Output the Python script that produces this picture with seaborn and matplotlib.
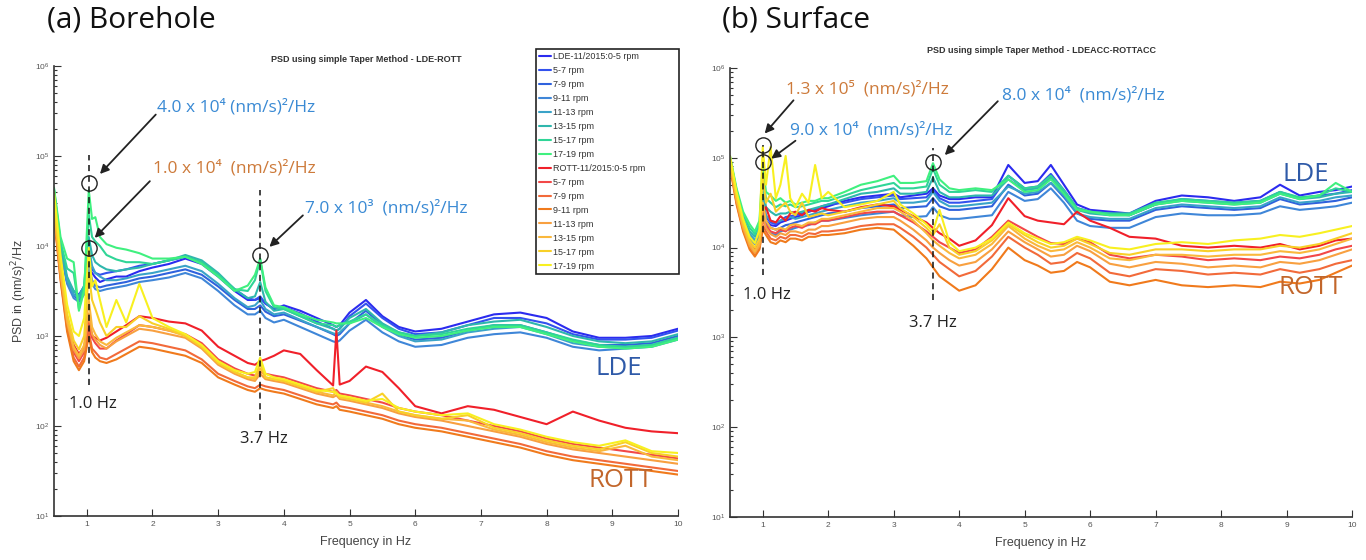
import numpy as np
import pandas as pd
import matplotlib
matplotlib.use('Agg')
import matplotlib.pyplot as plt
from matplotlib.ticker import LogLocator, NullFormatter
import seaborn as sns

RPM_BINS = ['0-5', '5-7', '7-9', '9-11', '11-13', '13-15', '15-17', '17-19']
LDE_LABELS = ['LDE-11/2015:0-5 rpm'] + [b + ' rpm' for b in RPM_BINS[1:]]
ROTT_LABELS = ['ROTT-11/2015:0-5 rpm'] + [b + ' rpm' for b in RPM_BINS[1:]]

LDE_COLORS = ['#2b2bef', '#3352ee', '#2f62dd', '#3f86d8',
              '#3aa3c8', '#2fb7ad', '#30d597', '#3ff07f']
ROTT_COLORS = ['#f0202a', '#f24848', '#f26a3a', '#f07a1c',
               '#f8a040', '#fab83c', '#f8d028', '#f8f020']

# (a) borehole -- log10 of PSD, one list per rpm bin
FREQ_A = [0.5, 0.6, 0.7, 0.8, 0.88, 0.96, 1.03, 1.08, 1.13, 1.2,
          1.3, 1.45, 1.6, 1.8, 2.0, 2.25, 2.5, 2.75, 3.0, 3.25,
          3.45, 3.56, 3.64, 3.72, 3.85, 4.0, 4.25, 4.5, 4.75, 4.8,
          4.85, 5.0, 5.25, 5.5, 5.75, 6.0, 6.4, 6.8, 7.2, 7.6,
          8.0, 8.4, 8.8, 9.2, 9.6, 10.0]

LDE_A = [
    [4.58, 3.98, 3.60, 3.46, 3.44, 3.55, 3.75, 3.70, 3.65, 3.60, 3.63, 3.66, 3.66, 3.72, 3.76, 3.80, 3.86, 3.80, 3.66, 3.50,
     3.40, 3.40, 3.42, 3.36, 3.30, 3.34, 3.28, 3.20, 3.12, 3.10, 3.12, 3.26, 3.40, 3.22, 3.10, 3.05, 3.08, 3.16, 3.24, 3.26,
     3.20, 3.05, 2.98, 2.98, 3.00, 3.08],
    [4.60, 4.00, 3.62, 3.50, 3.46, 3.55, 3.80, 3.74, 3.70, 3.68, 3.70, 3.72, 3.74, 3.78, 3.80, 3.84, 3.88, 3.82, 3.68, 3.52,
     3.42, 3.40, 3.44, 3.36, 3.30, 3.32, 3.25, 3.16, 3.08, 3.06, 3.08, 3.22, 3.36, 3.20, 3.08, 3.02, 3.04, 3.12, 3.20, 3.20,
     3.14, 3.02, 2.96, 2.96, 2.98, 3.06],
    [4.58, 3.98, 3.60, 3.45, 3.40, 3.48, 3.78, 3.62, 3.56, 3.54, 3.56, 3.58, 3.60, 3.64, 3.66, 3.70, 3.74, 3.68, 3.55, 3.40,
     3.30, 3.30, 3.34, 3.27, 3.22, 3.24, 3.17, 3.10, 3.02, 3.00, 3.02, 3.14, 3.28, 3.12, 3.02, 2.96, 2.98, 3.06, 3.12, 3.12,
     3.04, 2.95, 2.90, 2.90, 2.92, 3.00],
    [4.58, 3.96, 3.58, 3.42, 3.38, 3.46, 3.75, 3.58, 3.52, 3.50, 3.52, 3.54, 3.56, 3.60, 3.62, 3.65, 3.70, 3.64, 3.50, 3.34,
     3.24, 3.24, 3.28, 3.20, 3.15, 3.18, 3.10, 3.02, 2.94, 2.93, 2.95, 3.06, 3.18, 3.04, 2.94, 2.88, 2.90, 2.98, 3.02, 3.04,
     2.98, 2.88, 2.84, 2.86, 2.88, 2.96],
    [4.60, 4.00, 3.62, 3.46, 3.42, 3.52, 4.00, 3.78, 3.70, 3.66, 3.62, 3.62, 3.64, 3.68, 3.70, 3.74, 3.78, 3.72, 3.58, 3.42,
     3.32, 3.34, 3.40, 3.30, 3.24, 3.26, 3.18, 3.10, 3.03, 3.02, 3.04, 3.14, 3.24, 3.10, 3.00, 2.94, 2.96, 3.04, 3.08, 3.10,
     3.02, 2.92, 2.88, 2.88, 2.90, 2.98],
    [4.62, 4.02, 3.66, 3.50, 3.44, 3.56, 4.10, 3.90, 3.82, 3.78, 3.74, 3.72, 3.74, 3.76, 3.80, 3.84, 3.90, 3.84, 3.70, 3.52,
     3.42, 3.44, 3.60, 3.38, 3.28, 3.30, 3.22, 3.14, 3.08, 3.06, 3.08, 3.20, 3.30, 3.14, 3.04, 3.00, 3.04, 3.12, 3.16, 3.18,
     3.10, 3.00, 2.94, 2.92, 2.94, 3.02],
    [4.64, 4.05, 3.75, 3.70, 3.30, 3.55, 4.35, 4.10, 4.05, 4.00, 3.90, 3.85, 3.82, 3.82, 3.80, 3.84, 3.88, 3.82, 3.68, 3.52,
     3.50, 3.62, 3.85, 3.50, 3.32, 3.30, 3.22, 3.14, 3.12, 3.10, 3.12, 3.16, 3.24, 3.12, 3.04, 3.00, 3.02, 3.08, 3.12, 3.12,
     3.04, 2.96, 2.90, 2.88, 2.90, 2.98],
    [4.65, 4.10, 3.86, 3.82, 3.28, 3.50, 4.62, 4.30, 4.32, 4.10, 4.02, 3.98, 3.96, 3.92, 3.86, 3.86, 3.88, 3.80, 3.66, 3.50,
     3.56, 3.68, 3.86, 3.54, 3.34, 3.32, 3.24, 3.18, 3.15, 3.14, 3.14, 3.14, 3.20, 3.10, 3.02, 2.98, 3.00, 3.06, 3.10, 3.10,
     3.02, 2.94, 2.88, 2.86, 2.88, 2.96],
]

ROTT_A = [
    [4.40, 3.72, 3.20, 2.90, 2.80, 2.88, 3.20, 3.00, 2.98, 2.95, 2.98, 3.05, 3.12, 3.22, 3.20, 3.16, 3.14, 3.06, 2.88, 2.78,
     2.70, 2.68, 2.72, 2.74, 2.78, 2.84, 2.80, 2.62, 2.45, 3.06, 2.46, 2.50, 2.66, 2.60, 2.42, 2.22, 2.14, 2.22, 2.18, 2.10,
     2.02, 2.16, 2.06, 1.98, 1.94, 1.92],
    [4.38, 3.68, 3.12, 2.82, 2.72, 2.82, 3.10, 2.98, 2.92, 2.86, 2.86, 2.95, 3.02, 3.12, 3.10, 3.06, 3.02, 2.92, 2.74, 2.64,
     2.58, 2.56, 2.60, 2.58, 2.56, 2.54, 2.48, 2.42, 2.38, 2.40, 2.36, 2.34, 2.30, 2.26, 2.20, 2.16, 2.12, 2.06, 2.00, 1.94,
     1.86, 1.80, 1.76, 1.72, 1.68, 1.64],
    [4.36, 3.64, 3.08, 2.76, 2.66, 2.76, 3.05, 2.86, 2.82, 2.76, 2.74, 2.80, 2.86, 2.94, 2.92, 2.88, 2.84, 2.74, 2.58, 2.50,
     2.44, 2.42, 2.46, 2.44, 2.42, 2.40, 2.34, 2.28, 2.24, 2.26, 2.22, 2.20, 2.16, 2.12, 2.06, 2.02, 1.98, 1.92, 1.86, 1.80,
     1.72, 1.66, 1.62, 1.58, 1.54, 1.50],
    [4.34, 3.62, 3.05, 2.72, 2.62, 2.72, 3.00, 2.82, 2.76, 2.72, 2.70, 2.74, 2.80, 2.88, 2.86, 2.82, 2.78, 2.70, 2.54, 2.46,
     2.40, 2.38, 2.42, 2.40, 2.38, 2.36, 2.30, 2.24, 2.20, 2.22, 2.18, 2.16, 2.12, 2.08, 2.02, 1.98, 1.94, 1.88, 1.82, 1.76,
     1.68, 1.62, 1.58, 1.54, 1.50, 1.46],
    [4.40, 3.70, 3.15, 2.85, 2.75, 2.85, 3.25, 3.02, 2.96, 2.90, 2.86, 2.94, 3.00, 3.08, 3.06, 3.02, 2.98, 2.86, 2.68, 2.58,
     2.52, 2.50, 2.58, 2.52, 2.50, 2.48, 2.42, 2.36, 2.32, 2.34, 2.30, 2.28, 2.24, 2.20, 2.14, 2.10, 2.06, 2.00, 1.94, 1.88,
     1.80, 1.74, 1.70, 1.66, 1.62, 1.58],
    [4.42, 3.72, 3.18, 2.88, 2.78, 2.90, 3.40, 3.10, 3.02, 2.94, 2.90, 2.98, 3.04, 3.12, 3.10, 3.06, 3.00, 2.88, 2.70, 2.60,
     2.54, 2.52, 2.64, 2.54, 2.52, 2.50, 2.44, 2.38, 2.34, 2.38, 2.32, 2.30, 2.26, 2.22, 2.16, 2.12, 2.08, 2.06, 1.96, 1.90,
     1.82, 1.76, 1.72, 1.78, 1.66, 1.62],
    [4.50, 3.80, 3.25, 2.95, 2.85, 3.00, 3.70, 3.40, 3.30, 3.15, 3.00, 3.10, 3.10, 3.22, 3.14, 3.08, 3.00, 2.88, 2.70, 2.60,
     2.54, 2.54, 2.70, 2.54, 2.52, 2.50, 2.44, 2.38, 2.42, 2.36, 2.32, 2.30, 2.26, 2.36, 2.16, 2.12, 2.08, 2.12, 1.98, 1.92,
     1.84, 1.78, 1.74, 1.82, 1.70, 1.66],
    [4.60, 3.90, 3.35, 3.05, 3.00, 3.20, 3.98, 3.55, 3.62, 3.40, 3.10, 3.40, 3.15, 3.58, 3.20, 3.10, 3.02, 2.90, 2.72, 2.62,
     2.58, 2.60, 2.76, 2.58, 2.54, 2.52, 2.46, 2.40, 2.38, 2.36, 2.34, 2.32, 2.28, 2.30, 2.20, 2.16, 2.12, 2.14, 2.02, 1.96,
     1.88, 1.82, 1.78, 1.84, 1.72, 1.70],
]

# (b) surface -- log10 of PSD
FREQ_B = [0.5, 0.6, 0.7, 0.8, 0.88, 0.95, 1.0, 1.05, 1.12, 1.2,
          1.27, 1.35, 1.42, 1.5, 1.6, 1.7, 1.8, 1.9, 2.0, 2.25,
          2.5, 2.75, 3.0, 3.1, 3.3, 3.5, 3.6, 3.7, 3.85, 4.0,
          4.25, 4.5, 4.75, 5.0, 5.2, 5.4, 5.6, 5.8, 6.0, 6.3,
          6.6, 7.0, 7.4, 7.8, 8.2, 8.6, 8.9, 9.2, 9.5, 9.75,
          10.0]

LDE_B = [
    [5.00, 4.58, 4.28, 4.12, 4.05, 4.12, 4.45, 4.30, 4.25, 4.24, 4.28, 4.30, 4.32, 4.34, 4.36, 4.40, 4.42, 4.44, 4.46, 4.52,
     4.56, 4.58, 4.60, 4.56, 4.58, 4.60, 4.66, 4.58, 4.54, 4.54, 4.56, 4.56, 4.92, 4.72, 4.74, 4.92, 4.70, 4.48, 4.42, 4.40,
     4.38, 4.52, 4.58, 4.56, 4.52, 4.56, 4.70, 4.58, 4.62, 4.64, 4.68],
    [5.00, 4.60, 4.30, 4.14, 4.08, 4.15, 4.50, 4.34, 4.28, 4.26, 4.30, 4.34, 4.35, 4.36, 4.38, 4.40, 4.42, 4.46, 4.48, 4.50,
     4.54, 4.56, 4.58, 4.54, 4.55, 4.56, 4.64, 4.55, 4.50, 4.50, 4.52, 4.54, 4.80, 4.66, 4.68, 4.82, 4.64, 4.44, 4.40, 4.38,
     4.36, 4.48, 4.54, 4.52, 4.50, 4.52, 4.62, 4.55, 4.58, 4.60, 4.64],
    [4.98, 4.58, 4.28, 4.12, 4.06, 4.14, 4.48, 4.28, 4.22, 4.20, 4.22, 4.25, 4.26, 4.28, 4.30, 4.32, 4.34, 4.36, 4.38, 4.40,
     4.44, 4.46, 4.48, 4.44, 4.45, 4.46, 4.55, 4.46, 4.42, 4.42, 4.44, 4.46, 4.70, 4.58, 4.60, 4.72, 4.56, 4.38, 4.32, 4.30,
     4.30, 4.42, 4.46, 4.44, 4.42, 4.44, 4.54, 4.48, 4.50, 4.52, 4.56],
    [4.98, 4.56, 4.26, 4.10, 4.04, 4.12, 4.45, 4.22, 4.16, 4.14, 4.18, 4.20, 4.20, 4.22, 4.24, 4.25, 4.28, 4.30, 4.30, 4.33,
     4.36, 4.38, 4.40, 4.36, 4.34, 4.35, 4.45, 4.36, 4.32, 4.32, 4.34, 4.36, 4.62, 4.52, 4.54, 4.66, 4.50, 4.30, 4.24, 4.22,
     4.22, 4.34, 4.38, 4.36, 4.36, 4.38, 4.46, 4.42, 4.44, 4.46, 4.50],
    [5.00, 4.60, 4.30, 4.15, 4.08, 4.15, 4.60, 4.36, 4.30, 4.28, 4.30, 4.32, 4.34, 4.32, 4.34, 4.36, 4.38, 4.40, 4.42, 4.46,
     4.50, 4.52, 4.55, 4.50, 4.50, 4.52, 4.62, 4.52, 4.46, 4.46, 4.48, 4.50, 4.68, 4.60, 4.62, 4.72, 4.58, 4.38, 4.34, 4.32,
     4.32, 4.44, 4.48, 4.46, 4.44, 4.46, 4.56, 4.50, 4.52, 4.56, 4.58],
    [5.00, 4.62, 4.32, 4.18, 4.12, 4.20, 4.70, 4.45, 4.40, 4.36, 4.38, 4.38, 4.40, 4.38, 4.40, 4.42, 4.44, 4.46, 4.48, 4.54,
     4.60, 4.62, 4.66, 4.60, 4.60, 4.62, 4.78, 4.62, 4.56, 4.56, 4.58, 4.58, 4.76, 4.64, 4.66, 4.78, 4.62, 4.42, 4.38, 4.36,
     4.36, 4.48, 4.52, 4.50, 4.48, 4.50, 4.60, 4.54, 4.56, 4.60, 4.62],
    [5.00, 4.64, 4.36, 4.22, 4.15, 4.25, 4.80, 4.55, 4.50, 4.45, 4.48, 4.46, 4.48, 4.45, 4.46, 4.48, 4.50, 4.52, 4.52, 4.58,
     4.64, 4.68, 4.72, 4.66, 4.66, 4.68, 4.88, 4.70, 4.62, 4.62, 4.64, 4.62, 4.80, 4.66, 4.68, 4.80, 4.64, 4.44, 4.40, 4.38,
     4.38, 4.50, 4.54, 4.52, 4.50, 4.52, 4.62, 4.56, 4.58, 4.66, 4.62],
    [5.02, 4.66, 4.40, 4.26, 4.18, 4.30, 4.93, 4.62, 4.58, 4.52, 4.55, 4.50, 4.52, 4.48, 4.50, 4.52, 4.52, 4.55, 4.55, 4.62,
     4.70, 4.74, 4.80, 4.72, 4.72, 4.74, 4.94, 4.76, 4.66, 4.64, 4.66, 4.64, 4.76, 4.62, 4.64, 4.76, 4.60, 4.42, 4.40, 4.36,
     4.36, 4.48, 4.52, 4.50, 4.48, 4.50, 4.60, 4.54, 4.58, 4.72, 4.62],
]

ROTT_B = [
    [4.95, 4.55, 4.25, 4.05, 3.98, 4.05, 4.40, 4.45, 4.30, 4.28, 4.35, 4.30, 4.38, 4.40, 4.36, 4.42, 4.40, 4.44, 4.42, 4.40,
     4.45, 4.48, 4.46, 4.42, 4.35, 4.28, 4.22, 4.16, 4.10, 4.02, 4.08, 4.25, 4.55, 4.35, 4.30, 4.28, 4.26, 4.40, 4.30, 4.22,
     4.12, 4.10, 4.02, 4.00, 4.02, 4.00, 4.04, 3.98, 4.02, 4.08, 4.10],
    [4.93, 4.52, 4.22, 4.02, 3.95, 4.02, 4.30, 4.25, 4.18, 4.16, 4.20, 4.18, 4.22, 4.24, 4.22, 4.26, 4.26, 4.30, 4.30, 4.34,
     4.38, 4.40, 4.40, 4.36, 4.28, 4.18, 4.12, 4.06, 4.00, 3.94, 3.98, 4.12, 4.30, 4.20, 4.12, 4.05, 4.04, 4.10, 4.06, 3.92,
     3.88, 3.92, 3.90, 3.86, 3.88, 3.86, 3.90, 3.88, 3.92, 3.98, 4.02],
    [4.92, 4.50, 4.20, 4.00, 3.92, 4.00, 4.25, 4.18, 4.10, 4.08, 4.12, 4.10, 4.14, 4.14, 4.12, 4.16, 4.15, 4.18, 4.18, 4.20,
     4.24, 4.26, 4.26, 4.22, 4.12, 4.00, 3.92, 3.84, 3.76, 3.68, 3.74, 3.90, 4.12, 4.00, 3.92, 3.82, 3.84, 3.94, 3.88, 3.72,
     3.68, 3.76, 3.74, 3.70, 3.72, 3.70, 3.76, 3.72, 3.76, 3.82, 3.86],
    [4.90, 4.48, 4.18, 3.98, 3.90, 3.98, 4.20, 4.14, 4.06, 4.04, 4.08, 4.06, 4.10, 4.10, 4.08, 4.12, 4.12, 4.14, 4.14, 4.16,
     4.20, 4.22, 4.20, 4.14, 4.02, 3.88, 3.78, 3.68, 3.60, 3.52, 3.58, 3.76, 4.00, 3.86, 3.80, 3.72, 3.74, 3.84, 3.78, 3.62,
     3.58, 3.64, 3.58, 3.56, 3.58, 3.56, 3.62, 3.60, 3.64, 3.72, 3.80],
    [4.94, 4.52, 4.22, 4.02, 3.94, 4.02, 4.35, 4.22, 4.15, 4.12, 4.16, 4.14, 4.18, 4.18, 4.16, 4.20, 4.20, 4.24, 4.24, 4.28,
     4.32, 4.34, 4.34, 4.30, 4.20, 4.08, 4.00, 3.94, 3.86, 3.80, 3.84, 3.98, 4.18, 4.06, 3.98, 3.90, 3.92, 4.02, 3.96, 3.82,
     3.78, 3.84, 3.82, 3.78, 3.80, 3.78, 3.84, 3.82, 3.86, 3.92, 3.98],
    [4.96, 4.55, 4.25, 4.05, 3.96, 4.05, 4.50, 4.30, 4.22, 4.20, 4.22, 4.20, 4.25, 4.26, 4.24, 4.28, 4.28, 4.32, 4.32, 4.36,
     4.40, 4.44, 4.44, 4.40, 4.30, 4.16, 4.08, 4.02, 3.94, 3.88, 3.92, 4.04, 4.24, 4.10, 4.02, 3.96, 3.98, 4.06, 4.00, 3.88,
     3.86, 3.92, 3.92, 3.90, 3.92, 3.92, 3.96, 3.94, 3.98, 4.04, 4.10],
    [4.98, 4.58, 4.28, 4.08, 4.00, 4.10, 4.80, 4.50, 4.60, 4.40, 4.45, 4.50, 4.40, 4.36, 4.50, 4.34, 4.36, 4.38, 4.36, 4.40,
     4.44, 4.48, 4.52, 4.44, 4.34, 4.22, 4.14, 4.26, 4.00, 3.92, 3.96, 4.08, 4.26, 4.14, 4.06, 4.00, 4.02, 4.10, 4.04, 3.94,
     3.92, 3.98, 3.98, 3.96, 3.98, 3.98, 4.02, 4.00, 4.04, 4.10, 4.16],
    [5.02, 4.62, 4.32, 4.12, 4.05, 4.20, 5.12, 4.70, 5.12, 4.55, 4.70, 5.02, 4.55, 4.45, 4.60, 4.50, 4.92, 4.55, 4.62, 4.45,
     4.48, 4.52, 4.62, 4.48, 4.38, 4.26, 4.18, 4.42, 4.06, 3.96, 4.00, 4.10, 4.28, 4.16, 4.10, 4.04, 4.06, 4.12, 4.08, 4.00,
     3.98, 4.04, 4.06, 4.04, 4.08, 4.10, 4.14, 4.12, 4.16, 4.20, 4.24],
]

BLUE_TXT = '#3a8ad4'
ORANGE_TXT = '#cd7a3a'
CALIBRI = ['Open Sans', 'DejaVu Sans']

# annotation layout (x in Hz, y in log10 PSD)
A_NOTES = [('4.0 x 10\u2074 (nm/s)\u00b2/Hz', BLUE_TXT, (2.07, 5.54), (2.05, 5.46), (1.20, 4.80)),
           ('1.0 x 10\u2074  (nm/s)\u00b2/Hz', ORANGE_TXT, (2.01, 4.86), (1.96, 4.72), (1.12, 4.09)),
           ('7.0 x 10\u00b3  (nm/s)\u00b2/Hz', BLUE_TXT, (4.32, 4.42), (4.29, 4.34), (3.78, 3.99))]
A_CIRCLES = [(1.03, 4.70), (1.03, 3.98), (3.64, 3.90)]
A_DASHES = [(1.03, 2.46, 5.01), (3.64, 2.07, 4.62)]
A_HZ = [('1.0 Hz', 1.09, 2.24), ('3.7 Hz', 3.70, 1.86)]
A_STATIONS = [('LDE', 9.1, 2.64), ('ROTT', 9.13, 1.39)]

B_NOTES = [('1.3 x 10\u2075  (nm/s)\u00b2/Hz', ORANGE_TXT, (1.35, 5.76), (1.47, 5.64), (1.03, 5.27)),
           ('9.0 x 10\u2074  (nm/s)\u00b2/Hz', BLUE_TXT, (1.41, 5.31), (1.50, 5.19), (1.13, 4.99)),
           ('8.0 x 10\u2074  (nm/s)\u00b2/Hz', BLUE_TXT, (4.65, 5.70), (4.59, 5.63), (3.78, 5.03))]
B_CIRCLES = [(1.0, 5.14), (1.0, 4.95), (3.6, 4.95)]
B_DASHES = [(1.0, 3.69, 5.14), (3.6, 3.42, 5.11)]
B_HZ = [('1.0 Hz', 1.06, 3.47), ('3.7 Hz', 3.6, 3.16)]
B_STATIONS = [('LDE', 9.29, 4.81), ('ROTT', 9.37, 3.56)]

SERIES = ['LDE ' + b for b in RPM_BINS] + ['ROTT ' + b for b in RPM_BINS]
PALETTE = dict(zip(SERIES, LDE_COLORS + ROTT_COLORS))


def long_table(freq, lde, rott):
    rows = []
    for station, curves in (('LDE', lde), ('ROTT', rott)):
        for rpm, logs in zip(RPM_BINS, curves):
            assert len(logs) == len(freq)
            for f, v in zip(freq, logs):
                rows.append({'freq': f, 'psd': 10 ** v, 'series': station + ' ' + rpm})
    return pd.DataFrame(rows)


def style_axis(ax):
    ax.set_yscale('log')
    ax.set_xlim(0.5, 10)
    ax.set_ylim(1e1, 1e6)
    ax.set_xticks(range(1, 11))
    ax.yaxis.set_major_locator(LogLocator(base=10, numticks=10))
    ax.yaxis.set_minor_locator(LogLocator(base=10, subs=np.arange(2, 10), numticks=20))
    ax.yaxis.set_minor_formatter(NullFormatter())
    ax.tick_params(which='both', direction='in', color='#333333', labelcolor='#555555',
                   labelsize=6, width=0.8)
    ax.tick_params(which='major', length=5)
    ax.tick_params(which='minor', length=2.5)
    ax.spines['top'].set_visible(False)
    ax.spines['right'].set_visible(False)
    for s in ['left', 'bottom']:
        ax.spines[s].set_color('#333333')
        ax.spines[s].set_linewidth(1.2)
    ax.set_xlabel('Frequency in Hz', fontsize=9, color='#444444', labelpad=6)
    ax.set_ylabel('')


def annotate(ax, notes, circles, dashes, hz, stations):
    for x, lo, hi in dashes:
        ax.plot([x, x], [10 ** lo, 10 ** hi], color='#111111', lw=1.1,
                ls=(0, (4, 3)), zorder=5)
    for x, y in circles:
        ax.plot(x, 10 ** y, 'o', mfc='none', mec='#222222', mew=1.0, ms=11, zorder=6)
    for text, col, (tx, ty), (ax0, ay0), (ax1, ay1) in notes:
        ax.text(tx, 10 ** ty, text, color=col, fontsize=12.5, family=CALIBRI,
                ha='left', va='center', zorder=7)
        ax.annotate('', xy=(ax1, 10 ** ay1), xytext=(ax0, 10 ** ay0),
                    arrowprops=dict(arrowstyle='-|>', color='#222222', lw=1.3,
                                    mutation_scale=13, shrinkA=0, shrinkB=0),
                    zorder=7)
    for text, x, y in hz:
        ax.text(x, 10 ** y, text, color='#222222', fontsize=12, family=CALIBRI,
                ha='center', va='center', zorder=7)
    for (text, x, y), col in zip(stations, ['#2f5aa8', '#c2662b']):
        ax.text(x, 10 ** y, text, color=col, fontsize=18.5, family=CALIBRI,
                ha='center', va='center', zorder=7)


sns.set_style('ticks')
plt.rcParams['font.family'] = ['Liberation Sans', 'DejaVu Sans']

fig = plt.figure(figsize=(13.66, 5.6), dpi=100)
ax_a = fig.add_axes([0.0395, 0.0786, 0.4568, 0.8036])
ax_b = fig.add_axes([0.5344, 0.0768, 0.4554, 0.8018])

for ax, freq, lde, rott in ((ax_a, FREQ_A, LDE_A, ROTT_A), (ax_b, FREQ_B, LDE_B, ROTT_B)):
    df = long_table(freq, lde, rott)
    sns.lineplot(data=df, x='freq', y='psd', hue='series', hue_order=SERIES,
                 palette=PALETTE, estimator=None, linewidth=1.5, legend=False, ax=ax)
    style_axis(ax)

handles = ax_a.get_lines()[:16]
leg = ax_a.legend(handles, LDE_LABELS + ROTT_LABELS, loc='upper left',
                  bbox_to_anchor=(0.772, 0.0, 0.229, 1.038), mode='expand',
                  fontsize=6.5, frameon=True, fancybox=False, edgecolor='#222222',
                  framealpha=1, handlelength=1.3, handletextpad=0.3,
                  labelspacing=0.55, borderpad=0.35, borderaxespad=0)
leg.get_frame().set_linewidth(1.2)
for t in leg.get_texts():
    t.set_color('#333333')

ax_a.set_ylabel('PSD in (nm/s)$^2$/Hz', fontsize=9, color='#444444', labelpad=4)
ax_a.set_title('PSD using simple Taper Method - LDE-ROTT', fontsize=6.5,
               fontweight='bold', color='#333333', pad=3)
ax_b.set_title('PSD using simple Taper Method - LDEACC-ROTTACC', fontsize=6.5,
               fontweight='bold', color='#333333', pad=11)

annotate(ax_a, A_NOTES, A_CIRCLES, A_DASHES, A_HZ, A_STATIONS)
annotate(ax_b, B_NOTES, B_CIRCLES, B_DASHES, B_HZ, B_STATIONS)

fig.text(47 / 1366, 1 - 20 / 560, '(a) Borehole', fontsize=21.5, family=CALIBRI,
         ha='left', va='center', color='#111111')
fig.text(722 / 1366, 1 - 20 / 560, '(b) Surface', fontsize=21.5, family=CALIBRI,
         ha='left', va='center', color='#111111')

fig.savefig('out.png', dpi=100, facecolor='white')
